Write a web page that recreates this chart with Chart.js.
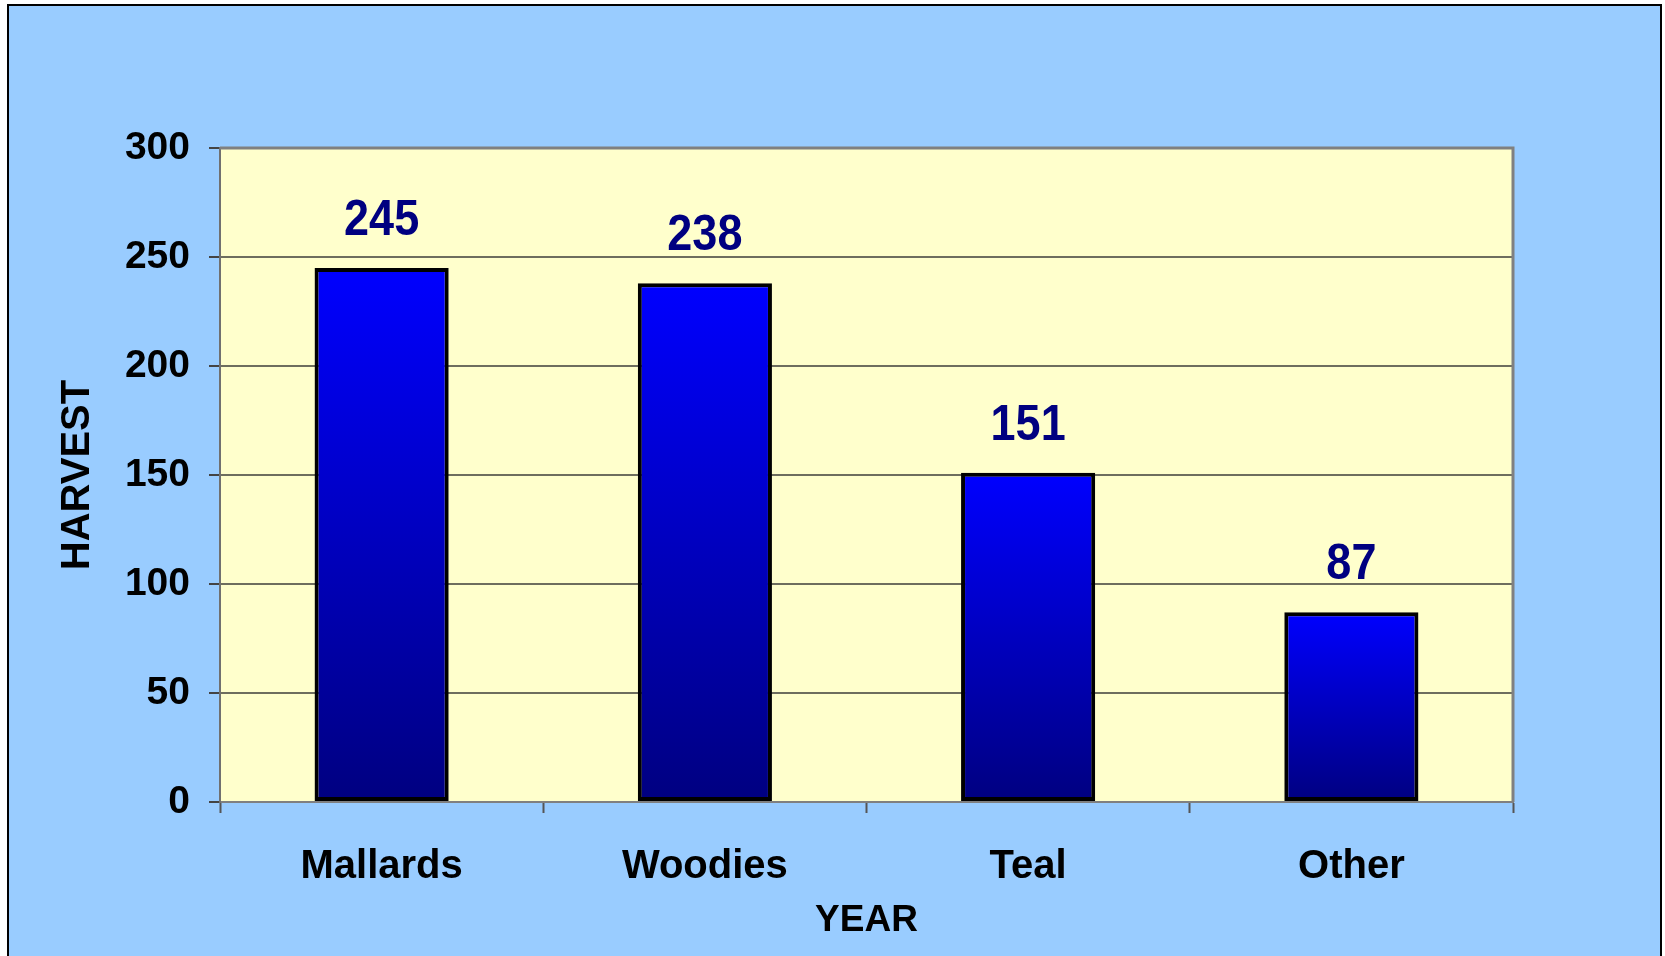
<!DOCTYPE html>
<html>
<head>
<meta charset="utf-8">
<title>Harvest</title>
<script src="https://cdn.jsdelivr.net/npm/chart.js@4.4.1/dist/chart.umd.min.js"></script>
<style>
  html, body { margin: 0; padding: 0; background: #fff; }
  #wrap { width: 1665px; height: 956px; position: relative; }
</style>
</head>
<body>
<div id="wrap"><canvas id="harvest-chart"></canvas></div>
<script>
  // data
  const categories = ["Mallards", "Woodies", "Teal", "Other"];
  const harvest = [245, 238, 151, 87];
  const yMin = 0;
  const yMax = 300;
  const yStep = 50;

  const FONT = "'Liberation Sans', Arial, sans-serif";

  // gradient per bar, bright blue at top, navy at bottom
  function barGradient(context) {
    const chart = context.chart;
    if (!chart.chartArea || context.type !== "data") return "#0000ff";
    const y = chart.scales.y;
    const top = y.getPixelForValue(context.raw);
    const bottom = y.getPixelForValue(0);
    const g = chart.ctx.createLinearGradient(0, top, 0, bottom);
    g.addColorStop(0, "#0000ff");
    g.addColorStop(1, "#000080");
    return g;
  }

  // Background, plot area and frame
  const backdrop = {
    id: "backdrop",
    beforeDraw(chart) {
      const ctx = chart.ctx;
      const a = chart.chartArea;
      ctx.save();
      ctx.fillStyle = "#ffffff";
      ctx.fillRect(0, 0, chart.width, chart.height);
      ctx.fillStyle = "#99ccff";
      ctx.fillRect(8, 5, 1653, 960);
      ctx.strokeStyle = "#000000";
      ctx.lineWidth = 2;
      ctx.strokeRect(8, 5, 1653, 960);
      ctx.fillStyle = "#ffffcc";
      ctx.fillRect(a.left, a.top, a.right - a.left, a.bottom - a.top);
      ctx.restore();
    },
    beforeDatasetsDraw(chart) {
      const ctx = chart.ctx;
      const a = chart.chartArea;
      ctx.save();
      ctx.strokeStyle = "#808080";
      ctx.lineWidth = 3;
      ctx.beginPath();
      ctx.moveTo(a.left, a.top);
      ctx.lineTo(a.right, a.top);
      ctx.lineTo(a.right, a.bottom);
      ctx.stroke();
      ctx.restore();
    }
  };

  // value labels above bars (a bit stretched, like the original)
  const valueLabels = {
    id: "valueLabels",
    afterDatasetsDraw(chart) {
      const ctx = chart.ctx;
      const meta = chart.getDatasetMeta(0);
      ctx.fillStyle = "#000080";
      ctx.font = "bold 45px " + FONT;
      ctx.textAlign = "center";
      ctx.textBaseline = "alphabetic";
      meta.data.forEach(function (bar, i) {
        ctx.save();
        ctx.translate(bar.x, bar.y - 33);
        ctx.scale(1, 1.13);
        ctx.fillText(String(harvest[i]), 0, 0);
        ctx.restore();
      });
    }
  };

  const ctx = document.getElementById("harvest-chart").getContext("2d");
  const harvestChart = new Chart(ctx, {
    type: "bar",
    data: {
      labels: categories,
      datasets: [
        {
          data: harvest,
          backgroundColor: barGradient,
          borderColor: "#000000",
          borderWidth: 4,
          borderSkipped: false,
          barPercentage: 0.415,
          categoryPercentage: 1,
        },
      ],
    },
    options: {
      responsive: true,
      maintainAspectRatio: false,
      animation: false,
      layout: { padding: { left: 0, top: 148, right: 152, bottom: 0 } },
      plugins: {
        legend: { display: false },
        tooltip: { enabled: false },
      },
      scales: {
        x: {
          afterFit(scale) { scale.height = 154; },
          grid: {
            offset: true,
            drawOnChartArea: false,
            drawTicks: true,
            tickLength: 11,
            tickWidth: 2,
            tickColor: "#555555",
          },
          border: { display: true, color: "#808080", width: 2 },
          ticks: {
            color: "#000000",
            font: { family: FONT, size: 40, weight: "bold" },
            padding: 30,
            maxRotation: 0,
            autoSkip: false,
          },
          title: {
            display: true,
            text: "YEAR",
            color: "#000000",
            font: { family: FONT, size: 37, weight: "bold" },
            padding: { top: 0, bottom: 13 },
          },
        },
        y: {
          min: yMin,
          max: yMax,
          afterFit(scale) { scale.width = 220; },
          grid: {
            color: "#6e6e5e",
            lineWidth: 2,
            drawTicks: true,
            tickLength: 11,
            tickColor: "#444444",
          },
          border: { display: true, color: "#707070", width: 2 },
          ticks: {
            stepSize: yStep,
            color: "#000000",
            font: { family: FONT, size: 39, weight: "bold" },
            padding: 19,
          },
          title: {
            display: true,
            text: "HARVEST",
            color: "#000000",
            font: { family: FONT, size: 40, weight: "bold" },
            padding: { top: 54, bottom: 0 },
          },
        },
      },
    },
    plugins: [backdrop, valueLabels],
  });
</script>
</body>
</html>
